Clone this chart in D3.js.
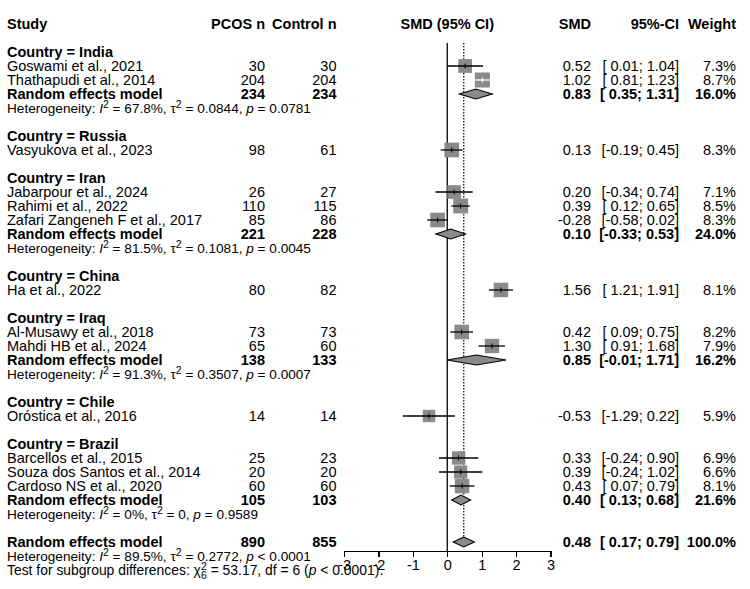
<!DOCTYPE html>
<html lang="en">
<head>
<meta charset="UTF-8">
<title>Forest plot</title>
<script src="https://cdn.jsdelivr.net/npm/d3@7"></script>
<style>
body{margin:0;background:#fff;}
svg text{font-family:"Liberation Sans",Arial,sans-serif;font-size:14.5px;fill:#000;white-space:pre;}
.b{font-weight:bold;}
.axis path,.axis line{stroke:#000;shape-rendering:crispEdges;}
</style>
</head>
<body>
<script>
var groups=["India","Russia","Iran","China","Iraq","Chile","Brazil"]
var studies=["Goswami et al., 2021","Thathapudi et al., 2014","Vasyukova et al., 2023","Jabarpour et al., 2024","Rahimi et al., 2022","Zafari Zangeneh F et al., 2017","Ha et al., 2022","Al-Musawy et al., 2018","Mahdi HB et al., 2024","Oróstica et al., 2016","Barcellos et al., 2015","Souza dos Santos et al., 2014","Cardoso NS et al., 2020"]
var studyGroup=[0,0,1,2,2,2,3,4,4,5,6,6,6]
var pcosN=[30,204,98,26,110,85,80,73,65,14,25,20,60]
var controlN=[30,204,61,27,115,86,82,73,60,14,23,20,60]
var smd=[0.52,1.02,0.13,0.20,0.39,-0.28,1.56,0.42,1.30,-0.53,0.33,0.39,0.43]
var ciLow=[0.01,0.81,-0.19,-0.34,0.12,-0.58,1.21,0.09,0.91,-1.29,-0.24,-0.24,0.07]
var ciHigh=[1.04,1.23,0.45,0.74,0.65,0.02,1.91,0.75,1.68,0.22,0.90,1.02,0.79]
var weight=[7.3,8.7,8.3,7.1,8.5,8.3,8.1,8.2,7.9,5.9,6.9,6.6,8.1]

// subgroup random effects (only groups with more than one study)
var reGroup=[0,2,4,6]
var rePcos=[234,221,138,105]
var reControl=[234,228,133,103]
var reSmd=[0.83,0.10,0.85,0.40]
var reLow=[0.35,-0.33,-0.01,0.13]
var reHigh=[1.31,0.53,1.71,0.68]
var reWeight=[16.0,24.0,16.2,21.6]
var hetI2=["67.8%","81.5%","91.3%","0%"]
var hetTau2=["0.0844","0.1081","0.3507","0"]
var hetP=["= 0.0781","= 0.0045","= 0.0007","= 0.9589"]

// overall
var total={pcos:890,control:855,smd:0.48,lo:0.17,hi:0.79,w:100.0,i2:"89.5%",tau2:"0.2772",p:"< 0.0001"}
var subgroupTest={chi2:"53.17",df:6,p:"< 0.0001"}
var xTicks=[-3,-2,-1,0,1,2,3]

var width=750,height=589
var svg=d3.select('body').append('svg').attr('width',width).attr('height',height)

// build row list
var rows=[]
groups.forEach(function(g,gi){
    rows.push({type:'group',label:'Country = '+g})
    studyGroup.forEach(function(sg,si){ if(sg===gi) rows.push({type:'study',i:si}) })
    var r=reGroup.indexOf(gi)
    if(r>=0){
        rows.push({type:'re',i:r})
        rows.push({type:'het',i2:hetI2[r],tau2:hetTau2[r],p:hetP[r]})
    }
    rows.push({type:'blank'})
})
rows.push({type:'overall'})
rows.push({type:'het',i2:total.i2,tau2:total.tau2,p:total.p})
rows.push({type:'test'})

var y=d3.scaleLinear().domain([0,1]).range([52,66])
var x=d3.scaleLinear().domain([-3,3]).range([344,550.5])

var col={study:7,pcos:265,control:336.5,smd:591,ci:679,w:736}

function fmt(v){return v.toFixed(2)}
function ciText(lo,hi){
    var a=lo<0?fmt(lo):' '+fmt(lo)
    var b=hi<0?fmt(hi):' '+fmt(hi)
    return '['+a+';'+b+']'
}
function txt(xp,yp,s,anchor,bold){
    return svg.append('text').attr('x',xp).attr('y',yp).attr('text-anchor',anchor||'start')
        .attr('class',bold?'b':null).text(s)
}

// header
var hy=y(-2)+5
txt(col.study,hy,'Study','start',true)
txt(col.pcos,hy,'PCOS n','end',true)
txt(col.control,hy,'Control n','end',true)
txt(x(0),hy,'SMD (95% CI)','middle',true)
txt(col.smd,hy,'SMD','end',true)
txt(col.ci,hy,'95%-CI','end',true)
txt(col.w,hy,'Weight','end',true)

var overallRow=rows.findIndex(function(r){return r.type==='overall'})
var plotTop=43

// reference lines
svg.append('line').attr('x1',x(0)).attr('x2',x(0)).attr('y1',plotTop).attr('y2',551)
    .attr('stroke','#000').attr('stroke-width',1.3)
svg.append('line').attr('x1',x(total.smd)).attr('x2',x(total.smd)).attr('y1',plotTop).attr('y2',y(overallRow)-5)
    .attr('stroke','#000').attr('stroke-width',1.2).attr('stroke-dasharray','1.5,1.5')

function diamond(cy,est,lo,hi){
    var pts=[[x(lo),cy],[x(est),cy-5],[x(hi),cy],[x(est),cy+5]]
    svg.append('polygon').attr('points',pts.map(function(p){return p.join(',')}).join(' '))
        .attr('fill','#8a8a8a').attr('stroke','#000').attr('stroke-width',1.1)
}

function hetLine(yp,r){
    var t=svg.append('text').attr('x',col.study).attr('y',yp).style('font-size','13.6px')
    t.append('tspan').text('Heterogeneity: ')
    t.append('tspan').style('font-style','italic').text('I')
    t.append('tspan').attr('dy',-5).style('font-size','10.5px').text('2')
    t.append('tspan').attr('dy',5).text(' = '+r.i2+', τ')
    t.append('tspan').attr('dy',-5).style('font-size','10.5px').text('2')
    t.append('tspan').attr('dy',5).text(' = '+r.tau2+', ')
    t.append('tspan').style('font-style','italic').text('p')
    t.append('tspan').text(' '+r.p)
}

rows.forEach(function(r,ri){
    var cy=y(ri), by=cy+5
    if(r.type==='group'){
        txt(col.study,by,r.label,'start',true)
    } else if(r.type==='study'){
        var i=r.i
        txt(col.study,by,studies[i])
        txt(col.pcos,by,pcosN[i],'end')
        txt(col.control,by,controlN[i],'end')
        txt(col.smd,by,fmt(smd[i]),'end')
        txt(col.ci,by,ciText(ciLow[i],ciHigh[i]),'end')
        txt(col.w,by,weight[i].toFixed(1)+'%','end')
        var s=5.1*Math.sqrt(weight[i])
        svg.append('rect').attr('x',x(smd[i])-s/2).attr('y',cy-s/2).attr('width',s).attr('height',s)
            .attr('fill','#8a8a8a')
        var inside=(x(ciHigh[i])-x(ciLow[i]))<s
        svg.append('line').attr('x1',x(ciLow[i])).attr('x2',x(ciHigh[i])).attr('y1',cy).attr('y2',cy)
            .attr('stroke',inside?'#fff':'#000').attr('stroke-width',1.3)
        svg.append('line').attr('x1',x(smd[i])).attr('x2',x(smd[i])).attr('y1',cy-2.5).attr('y2',cy+2.5)
            .attr('stroke',inside?'#fff':'#000').attr('stroke-width',1)
    } else if(r.type==='re'){
        var k=r.i
        txt(col.study,by,'Random effects model','start',true)
        txt(col.pcos,by,rePcos[k],'end',true)
        txt(col.control,by,reControl[k],'end',true)
        txt(col.smd,by,fmt(reSmd[k]),'end',true)
        txt(col.ci,by,ciText(reLow[k],reHigh[k]),'end',true)
        txt(col.w,by,reWeight[k].toFixed(1)+'%','end',true)
        diamond(cy,reSmd[k],reLow[k],reHigh[k])
    } else if(r.type==='het'){
        hetLine(by,r)
    } else if(r.type==='overall'){
        txt(col.study,by,'Random effects model','start',true)
        txt(col.pcos,by,total.pcos,'end',true)
        txt(col.control,by,total.control,'end',true)
        txt(col.smd,by,fmt(total.smd),'end',true)
        txt(col.ci,by,ciText(total.lo,total.hi),'end',true)
        txt(col.w,by,total.w.toFixed(1)+'%','end',true)
        diamond(cy,total.smd,total.lo,total.hi)
    } else if(r.type==='test'){
        var t=svg.append('text').attr('x',col.study).attr('y',by).style('font-size','13.9px')
        t.append('tspan').text('Test for subgroup differences: χ')
        t.append('tspan').attr('dy',-5).style('font-size','10.5px').text('2')
        t.append('tspan').attr('dx',-5.8).attr('dy',9).style('font-size','10.5px').text(subgroupTest.df)
        t.append('tspan').attr('dy',-4).text(' = '+subgroupTest.chi2+', df = '+subgroupTest.df+' (')
        t.append('tspan').style('font-style','italic').text('p')
        t.append('tspan').text(' '+subgroupTest.p+').')
    }
})

// x axis
var xAxis=d3.axisBottom(x).tickValues(xTicks).tickSizeOuter(0).tickSize(6).tickFormat(d3.format('d'))
var ax=svg.append('g').attr('class','axis').attr('transform','translate(0,551)').call(xAxis)
ax.selectAll('text').style('font-family','"Liberation Sans",Arial,sans-serif').style('font-size','14.5px')
ax.select('.domain').attr('stroke-width',1.2)
ax.selectAll('.tick line').attr('stroke-width',1.2)
ax.selectAll('.tick text').text(function(d){return d<0?'-'+Math.abs(d):d})
</script>
</body>
</html>
